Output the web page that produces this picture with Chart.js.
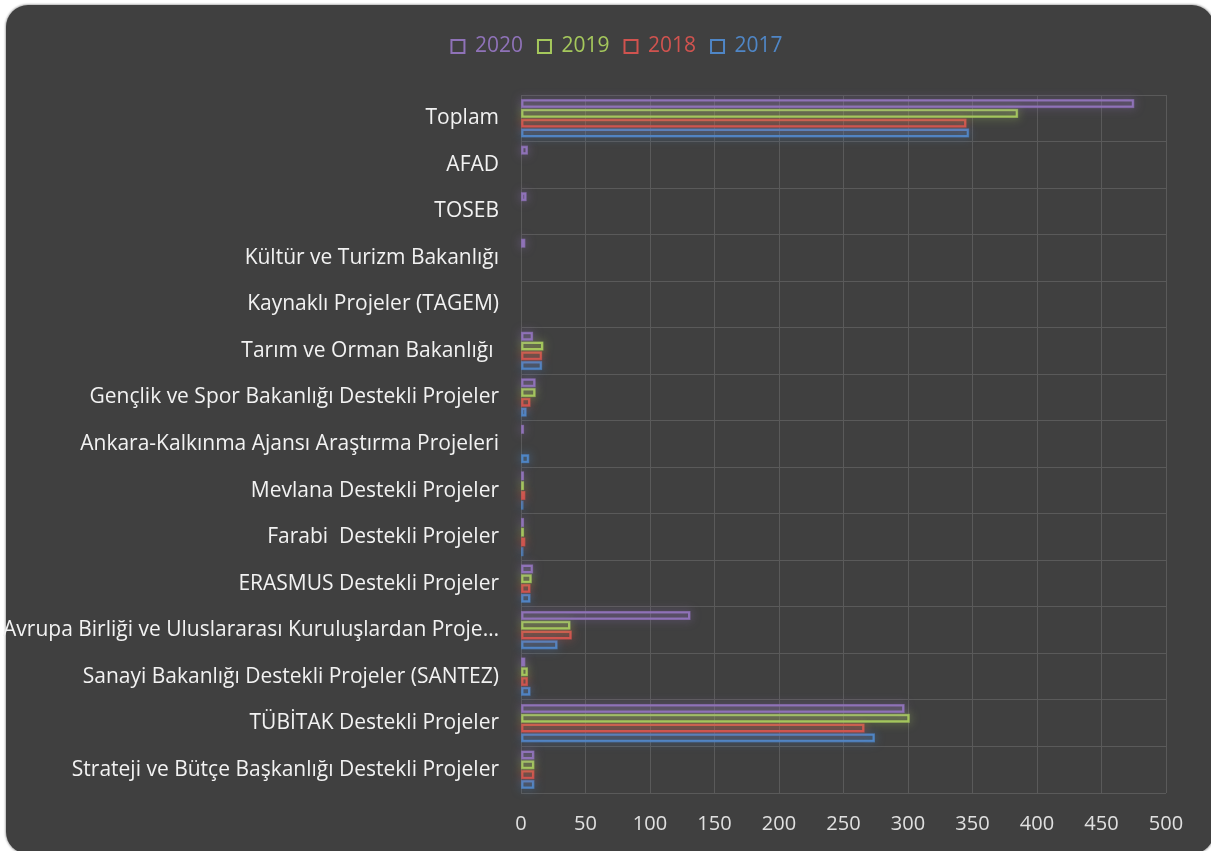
<!DOCTYPE html>
<html>
<head>
<meta charset="utf-8">
<script src="https://cdn.jsdelivr.net/npm/chart.js@4/dist/chart.umd.min.js"></script>
<style>
  html, body { margin:0; padding:0; background:#ffffff; width:1211px; height:851px; overflow:hidden; }
  #card { position:absolute; left:6px; top:5px; width:1208px; height:849px; background:#404040; border-radius:22px; box-shadow:0 0 2px 1px #b8b8b8; }
  #wrap { position:absolute; left:0; top:0; width:1211px; height:851px; }
</style>
</head>
<body>
<div id="card"></div>
<div id="wrap"><canvas id="c" width="1211" height="851"></canvas></div>
<script>
const categories = [
  "Toplam",
  "AFAD",
  "TOSEB",
  "Kültür ve Turizm Bakanlığı",
  "Kaynaklı Projeler (TAGEM)",
  "Tarım ve Orman Bakanlığı ",
  "Gençlik ve Spor Bakanlığı Destekli Projeler",
  "Ankara-Kalkınma Ajansı Araştırma Projeleri",
  "Mevlana Destekli Projeler",
  "Farabi  Destekli Projeler",
  "ERASMUS Destekli Projeler",
  "Avrupa Birliği ve Uluslararası Kuruluşlardan Proje…",
  "Sanayi Bakanlığı Destekli Projeler (SANTEZ)",
  "TÜBİTAK Destekli Projeler",
  "Strateji ve Bütçe Başkanlığı Destekli Projeler"
];
const seriesNames = ["2020", "2019", "2018", "2017"];
const values2020 = [475, 5, 4, 3, null, 9, 11, 2, 2, 2, 9, 131, 3, 297, 10];
const values2019 = [385, null, null, null, null, 17, 11, null, 2, 2, 8, 38, 5, 301, 10];
const values2018 = [345, null, null, null, null, 16, 7, null, 3, 3, 7, 39, 5, 266, 10];
const values2017 = [347, null, null, null, null, 16, 4, 6, 1, 1, 7, 28, 7, 274, 10];
const xTicks = [0, 50, 100, 150, 200, 250, 300, 350, 400, 450, 500];

const colors = ["#8f72b8", "#a5c85c", "#d0534f", "#4f86c6"];
const fills  = ["rgba(143,114,184,0.14)", "rgba(165,200,92,0.14)", "rgba(208,83,79,0.14)", "rgba(79,134,198,0.14)"];
const allValues = [values2020, values2019, values2018, values2017];
const FONT = '"Open Sans", "Noto Sans", sans-serif';

const datasets = seriesNames.map((n, i) => ({
  label: n,
  data: allValues[i],
  xAxisID: 'x',
  backgroundColor: fills[i],
  borderColor: colors[i],
  borderWidth: 2,
  borderSkipped: false,
  categoryPercentage: 0.84,
  barPercentage: 0.82
}));

// soft coloured glow behind each bar
const glow = {
  id: 'glow',
  beforeDatasetDraw(chart, args) {
    const ctx = chart.ctx;
    const meta = args.meta;
    ctx.save();
    ctx.shadowColor = colors[args.index];
    ctx.shadowBlur = 10;
    ctx.strokeStyle = colors[args.index];
    ctx.globalAlpha = 0.75;
    ctx.lineWidth = 2;
    meta.data.forEach((bar, j) => {
      const v = chart.data.datasets[args.index].data[j];
      if (v === null || v === undefined) return;
      const p = bar.getProps(['x', 'y', 'base', 'height'], true);
      const left = Math.min(p.base, p.x), w = Math.abs(p.x - p.base);
      ctx.strokeRect(left + 0.5, p.y - p.height / 2 + 0.5, Math.max(w - 1, 0.5), p.height - 1);
    });
    ctx.restore();
  }
};

// shift legend a little to the right, as in the original
const legendShift = {
  id: 'legendShift',
  afterLayout(chart) {
    const lg = chart.legend;
    if (lg) { lg.left += 34; lg.right += 34; }
  }
};

new Chart(document.getElementById('c'), {
  type: 'bar',
  data: { labels: categories, datasets },
  plugins: [glow, legendShift],
  options: {
    responsive: false,
    animation: false,
    indexAxis: 'y',
    layout: { padding: { top: 21, right: 45, bottom: -4, left: 0 } },
    plugins: {
      tooltip: { enabled: false },
      legend: {
        position: 'top',
        labels: {
          font: { family: FONT, size: 21 },
          boxWidth: 13, boxHeight: 13, padding: 15,
          generateLabels(chart) {
            return chart.data.datasets.map((d, i) => ({
              text: d.label,
              fillStyle: 'rgba(0,0,0,0)',
              strokeStyle: colors[i],
              lineWidth: 2,
              fontColor: colors[i],
              datasetIndex: i,
              hidden: false
            }));
          }
        }
      }
    },
    scales: {
      x: {
        position: 'bottom',
        min: 0, max: 500,
        afterBuildTicks(scale) { scale.ticks = xTicks.map(v => ({ value: v })); },
        grid: { color: '#5a5a5a', lineWidth: 1, drawTicks: false },
        border: { display: false },
        ticks: { color: '#e0e0e0', padding: 19, font: { family: FONT, size: 20 } }
      },
      xTopSpacer: {
        type: 'linear',
        position: 'top',
        display: true,
        afterFit(scale) { scale.height = 28; },
        grid: { display: false, drawOnChartArea: false, drawTicks: false },
        border: { display: false },
        ticks: { display: false }
      },
      y: {
        afterFit(scale) { scale.width = 521; },
        grid: { color: '#5a5a5a', lineWidth: 1, drawTicks: false, offset: true },
        border: { display: false },
        ticks: { color: '#f2f2f2', padding: 22, autoSkip: false, font: { family: FONT, size: 21 } }
      }
    }
  }
});
</script>
</body>
</html>
